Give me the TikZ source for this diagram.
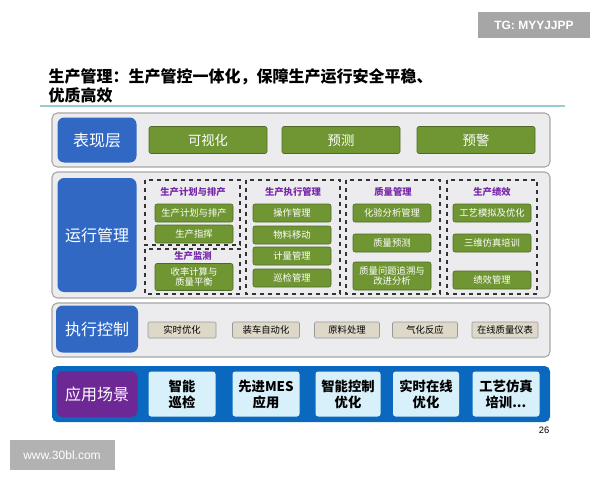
\documentclass[tikz,border=0pt]{standalone}
\usepackage{fontspec}
\setmainfont{Liberation Sans}
\newfontfamily\cjk{Noto Sans CJK SC}
\usetikzlibrary{positioning}

\definecolor{panelgray}{RGB}{236,236,238}
\definecolor{leafgreen}{RGB}{112,150,52}
\definecolor{labelblue}{RGB}{48,104,196}
\definecolor{deepblue}{RGB}{10,104,190}
\definecolor{paleblue}{RGB}{215,240,250}
\definecolor{beige}{RGB}{222,216,200}
\definecolor{grape}{RGB}{110,40,150}
\definecolor{titleviolet}{RGB}{120,40,170}

% sizes are given in pixels of the 600x480 frame
\newcommand{\px}[1]{#1*0.75pt}

\begin{document}
\begin{tikzpicture}[x=0.75pt,y=-0.75pt,font=\cjk,
    panel/.style={draw=gray!70,fill=panelgray,rounded corners=4pt,line width=0.8pt},
    layer/.style={fill=labelblue,rounded corners=5pt,text=white,font=\cjk\large},
    leaf/.style={fill=leafgreen,draw=leafgreen!70!black,rounded corners=1.5pt,text=white,font=\cjk\scriptsize,align=center,inner sep=0pt},
    group/.style={draw=black!80,dashed,line width=1.2pt},
    grouptitle/.style={text=titleviolet,font=\cjk\scriptsize\bfseries},
    ctrl/.style={fill=beige,draw=gray!80,rounded corners=1pt,font=\cjk\scriptsize,inner sep=0pt},
    scene/.style={fill=paleblue,rounded corners=2pt,font=\cjk\bfseries,align=center,inner sep=0pt}]
\useasboundingbox (0,0) rectangle (600,480);
\fill[white] (0,0) rectangle (600,480);

% watermark and title
\node (tg) at (534,25) [fill=gray!70,minimum width=\px{112},minimum height=\px{26},text=white,font=\small\bfseries] {TG: MYYJJPP};
\node (title) at (44,86) [anchor=west,align=left,font=\cjk\large\bfseries] {生产管理：生产管控一体化，保障生产运行安全平稳、\\优质高效};
\draw[teal!40,line width=1pt] (40,106) -- (565,106);

% panels
\draw[panel] (52,113) rectangle (550,167);
\draw[panel] (52,172) rectangle (550,298);
\draw[panel] (52,303) rectangle (550,357);
\fill[deepblue,rounded corners=4pt] (52,366) rectangle (550,422);

% layer labels
\node (show) at (97,140) [layer,minimum width=\px{79},minimum height=\px{45}] {表现层};
\node (run) at (97,235) [layer,minimum width=\px{79},minimum height=\px{114}] {运行管理};
\node (exec) at (97,329) [layer,minimum width=\px{82},minimum height=\px{47}] {执行控制};
\node (app) at (97,394) [layer,fill=grape,minimum width=\px{81},minimum height=\px{46}] {应用场景};

% presentation layer
\begin{scope}[every node/.style={leaf,font=\cjk\normalsize,minimum width=\px{118},minimum height=\px{27}}]
    \node (visual) at (208,140) {可视化};
    \node (predict) at (341,140) {预测};
    \node (alarm) at (476,140) {预警};
\end{scope}

% operation management groups
\draw[group] (145,180) rectangle (240,245);
\draw[group] (145,249) rectangle (240,294);
\draw[group] (246,180) rectangle (340,294);
\draw[group] (346,180) rectangle (440,294);
\draw[group] (447,180) rectangle (537,294);

\node (plantitle) at (193,192) [grouptitle] {生产计划与排产};
\node (montitle) at (193,256) [grouptitle] {生产监测};
\node (exetitle) at (293,192) [grouptitle] {生产执行管理};
\node (qualtitle) at (393,192) [grouptitle] {质量管理};
\node (perftitle) at (492,192) [grouptitle] {生产绩效};

\begin{scope}[every node/.style={leaf,minimum width=\px{78},minimum height=\px{18}}]
    \node (plan) at (194,213) {生产计划与排产};
    \node (command) at (194,234) {生产指挥};
    \node (balance) at (194,277) [minimum height=\px{27}] {收率计算与\\质量平衡};

    \node (operate) at (292,213) {操作管理};
    \node (material) at (292,235) {物料移动};
    \node (meter) at (292,256) {计量管理};
    \node (patrol) at (292,278) {巡检管理};

    \node (assay) at (392,213) {化验分析管理};
    \node (qpred) at (392,243) {质量预测};
    \node (trace) at (392,276) [minimum height=\px{28}] {质量问题追溯与\\改进分析};

    \node (simopt) at (492,213) {工艺模拟及优化};
    \node (train3d) at (492,243) {三维仿真培训};
    \node (kpi) at (492,280) {绩效管理};
\end{scope}

% execution control
\begin{scope}[every node/.style={ctrl,minimum height=\px{16}}]
    \node (rto) at (182,330) [minimum width=\px{68}] {实时优化};
    \node (loading) at (266,330) [minimum width=\px{67}] {装车自动化};
    \node (rawmat) at (347,330) [minimum width=\px{65}] {原料处理};
    \node (gasify) at (425,330) [minimum width=\px{65}] {气化反应};
    \node (online) at (505,330) [minimum width=\px{66}] {在线质量仪表};
\end{scope}

% application scenes
\begin{scope}[every node/.style={scene,minimum height=\px{45}}]
    \node (smart) at (182,394) [minimum width=\px{67}] {智能\\巡检};
    \node (mes) at (266,394) [minimum width=\px{67}] {先进MES\\应用};
    \node (control) at (348,394) [minimum width=\px{65}] {智能控制\\优化};
    \node (realtime) at (426,394) [minimum width=\px{66}] {实时在线\\优化};
    \node (simtrain) at (506,394) [minimum width=\px{67}] {工艺仿真\\培训...};
\end{scope}

\node (page) at (544,430) [font=\scriptsize] {26};
\node (site) at (62,455) [fill=gray!60,minimum width=\px{105},minimum height=\px{30},text=white,font=\small] {www.30bl.com};
\end{tikzpicture}
\end{document}
